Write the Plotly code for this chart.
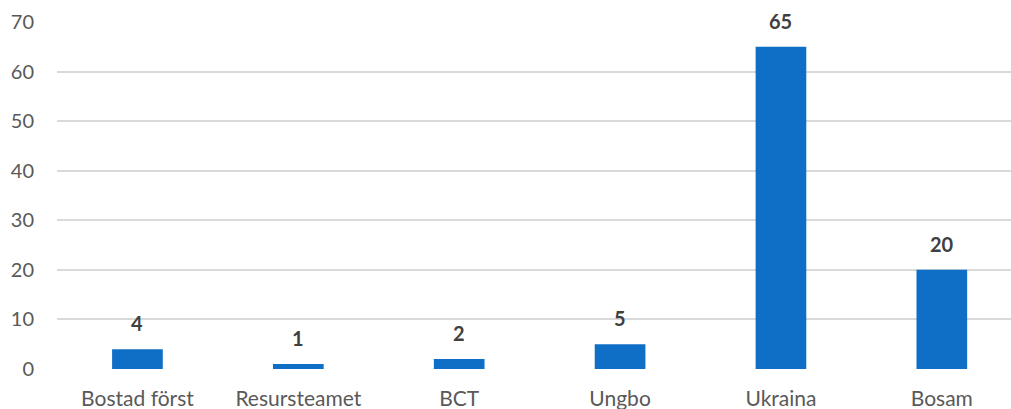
import plotly.graph_objects as go

categories = ["Bostad först", "Resursteamet", "BCT", "Ungbo", "Ukraina", "Bosam"]
values = [4, 1, 2, 5, 65, 20]
y_ticks = [0, 10, 20, 30, 40, 50, 60, 70]

fig = go.Figure()
fig.add_trace(go.Bar(
    x=list(range(len(categories))), y=values,
    marker=dict(color="#0F6FC6", line=dict(width=0)),
    width=0.315,
))
for i, v in enumerate(values):
    fig.add_annotation(x=i, y=v, text=f"<b>{v}</b>", showarrow=False,
                       yanchor="bottom", yshift=12,
                       font=dict(size=20, color="#404040", family="Lato"))

fig.update_layout(
    width=1011, height=409,
    margin=dict(l=57, r=0, t=22, b=40),
    plot_bgcolor="white", paper_bgcolor="white",
    showlegend=False,
    font=dict(family="Lato", color="#595959", size=20),
    xaxis=dict(tickmode="array", tickvals=list(range(len(categories))), ticktext=categories,
               range=[-0.5, 5.43], showgrid=False, zeroline=False, showline=False,
               ticks="", ticklabelstandoff=15, tickfont=dict(size=21, color="#595959")),
    yaxis=dict(range=[0, 70], tickvals=y_ticks, showgrid=True, gridcolor="#D9D9D9", gridwidth=1.5,
               zeroline=False, showline=False, ticks="", ticklabelstandoff=22,
               tickfont=dict(size=20, color="#595959")),
)
fig.write_html("out.html")
